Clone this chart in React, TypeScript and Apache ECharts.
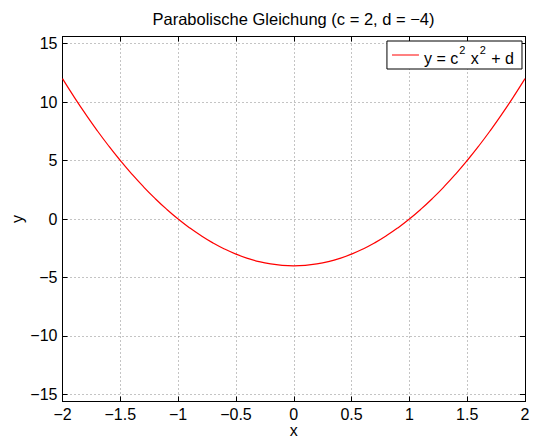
import React, { useEffect, useRef } from "react";
import * as echarts from "echarts";

const xValues = [
  -2, -1.9, -1.8, -1.7, -1.6, -1.5, -1.4, -1.3, -1.2, -1.1, -1, -0.9, -0.8, -0.7, -0.6, -0.5, -0.4, -0.3, -0.2, -0.1,
  0, 0.1, 0.2, 0.3, 0.4, 0.5, 0.6, 0.7, 0.8, 0.9, 1, 1.1, 1.2, 1.3, 1.4, 1.5, 1.6, 1.7, 1.8, 1.9, 2,
];
const yValues = [
  12, 10.44, 8.96, 7.56, 6.24, 5, 3.84, 2.76, 1.76, 0.84, 0, -0.76, -1.44, -2.04, -2.56, -3, -3.36, -3.64, -3.84, -3.96,
  -4, -3.96, -3.84, -3.64, -3.36, -3, -2.56, -2.04, -1.44, -0.76, 0, 0.84, 1.76, 2.76, 3.84, 5, 6.24, 7.56, 8.96, 10.44, 12,
];
const yTicks = [-15, -10, -5, 0, 5, 10, 15];
const titleText = "Parabolische Gleichung (c = 2, d = \u22124)";
const seriesName = "parabel";

const FONT = "Liberation Sans, Arial, Helvetica, sans-serif";
const FS = 16;
const fmt = (v: number) => String(v).replace("-", "\u2212");

export default function App() {
  const ref = useRef<HTMLDivElement>(null);
  useEffect(() => {
    if (!ref.current) return;
    const chart = echarts.init(ref.current, null, { renderer: "svg" });
    const gridLine = { show: true, lineStyle: { color: "#888", type: [1, 3] as any, width: 1 } };
    const tickIn = { show: true, inside: true, length: 5, lineStyle: { color: "#000", width: 1 } };
    chart.setOption({
      animation: false,
      backgroundColor: "#fff",
      textStyle: { fontFamily: FONT },
      graphic: [
        {
          type: "text",
          x: 293.5,
          y: 10,
          style: {
            text: titleText,
            textAlign: "center",
            textVerticalAlign: "top",
            font: `16.5px ${FONT}`,
            fill: "#000",
          },
        },
      ],
      legend: {
        right: 11,
        top: 41,
        orient: "vertical",
        backgroundColor: "#fff",
        borderColor: "#000",
        borderWidth: 1,
        borderRadius: 0,
        padding: [3, 8, 3, 5],
        itemWidth: 27,
        itemHeight: 14,
        itemGap: 0,
        data: [{ name: seriesName, icon: "path://M0,0L27,0L27,1L0,1Z" }],
        formatter: () => "{a|y = c}{s|2}{a| x}{s|2}{a| + d}",
        textStyle: {
          fontFamily: FONT,
          color: "#000",
          rich: {
            a: { fontFamily: FONT, fontSize: FS, color: "#000", lineHeight: 22, verticalAlign: "bottom" },
            s: { fontFamily: FONT, fontSize: 11, color: "#000", lineHeight: 22, verticalAlign: "top", padding: [0, 1, 0, 1] },
          },
        },
      },
      grid: { left: 62.5, right: 8, top: 36.5, bottom: 37.5, containLabel: false, outerBoundsMode: "none" },
      xAxis: [
        {
          type: "value",
          min: -2,
          max: 2,
          interval: 0.5,
          name: "x",
          nameLocation: "middle",
          nameGap: 21,
          nameMoveOverlap: false,
          nameTextStyle: { fontFamily: FONT, fontSize: FS, color: "#000" },
          axisLine: { show: true, onZero: false, lineStyle: { color: "#000", width: 1 } },
          axisTick: tickIn,
          axisLabel: { fontFamily: FONT, fontSize: FS, color: "#000", margin: 5, formatter: (v: number) => fmt(v) },
          splitLine: gridLine,
        },
        {
          type: "value",
          position: "top",
          min: -2,
          max: 2,
          interval: 0.5,
          axisLine: { show: true, onZero: false, lineStyle: { color: "#000", width: 1 } },
          axisTick: tickIn,
          axisLabel: { show: false },
          splitLine: { show: false },
        },
      ],
      yAxis: [
        {
          type: "value",
          min: -15.6,
          max: 15.6,
          name: "y",
          nameLocation: "middle",
          nameGap: 37,
          nameRotate: 90,
          nameMoveOverlap: false,
          nameTextStyle: { fontFamily: FONT, fontSize: FS, color: "#000" },
          axisLine: { show: true, onZero: false, lineStyle: { color: "#000", width: 1 } },
          axisTick: { ...tickIn, customValues: yTicks },
          axisLabel: { fontFamily: FONT, fontSize: FS, color: "#000", margin: 5, customValues: yTicks, formatter: (v: number) => fmt(v) },
          splitLine: gridLine,
        },
        {
          type: "value",
          position: "right",
          min: -15.6,
          max: 15.6,
          axisLine: { show: true, onZero: false, lineStyle: { color: "#000", width: 1 } },
          axisTick: { ...tickIn, customValues: yTicks },
          axisLabel: { show: false, customValues: yTicks },
          splitLine: { show: false },
        },
      ],
      series: [
        {
          name: seriesName,
          type: "line",
          xAxisIndex: 0,
          yAxisIndex: 0,
          data: xValues.map((x, i) => [x, yValues[i]]),
          smooth: true,
          symbol: "none",
          lineStyle: { color: "#ff0000", width: 1.2 },
          itemStyle: { color: "#ff0000" },
          z: 5,
        },
      ],
    });
    return () => chart.dispose();
  }, []);
  return <div ref={ref} style={{ position: "fixed", left: 0, top: 0, width: 533, height: 439 }} />;
}
